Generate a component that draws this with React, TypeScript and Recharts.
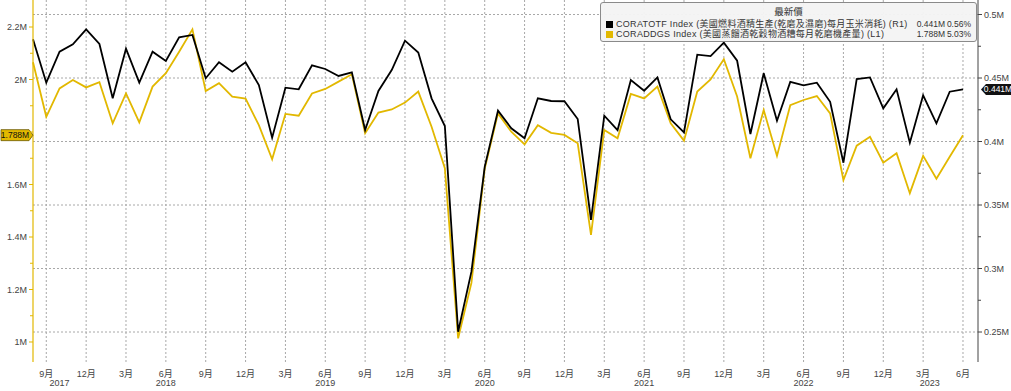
import { LineChart, Line, XAxis, YAxis, CartesianGrid, ReferenceDot } from "recharts";

const months = [
  "2017-08", "2017-09", "2017-10", "2017-11", "2017-12",
  "2018-01", "2018-02", "2018-03", "2018-04", "2018-05", "2018-06", "2018-07", "2018-08", "2018-09", "2018-10", "2018-11", "2018-12",
  "2019-01", "2019-02", "2019-03", "2019-04", "2019-05", "2019-06", "2019-07", "2019-08", "2019-09", "2019-10", "2019-11", "2019-12",
  "2020-01", "2020-02", "2020-03", "2020-04", "2020-05", "2020-06", "2020-07", "2020-08", "2020-09", "2020-10", "2020-11", "2020-12",
  "2021-01", "2021-02", "2021-03", "2021-04", "2021-05", "2021-06", "2021-07", "2021-08", "2021-09", "2021-10", "2021-11", "2021-12",
  "2022-01", "2022-02", "2022-03", "2022-04", "2022-05", "2022-06", "2022-07", "2022-08", "2022-09", "2022-10", "2022-11", "2022-12",
  "2023-01", "2023-02", "2023-03", "2023-04", "2023-05", "2023-06",
];

// CORATOTF, right axis (M)
const cornUse = [
  0.4805, 0.4463, 0.4707, 0.4765, 0.4883, 0.4768, 0.434, 0.4731, 0.4463, 0.4707,
  0.4634, 0.482, 0.4839, 0.4498, 0.4624, 0.455, 0.4624, 0.4445, 0.403, 0.4424,
  0.4411, 0.46, 0.4571, 0.4516, 0.4545, 0.409, 0.4398, 0.4563, 0.4794, 0.47,
  0.434, 0.4122, 0.2502, 0.2975, 0.38, 0.4243, 0.4104, 0.4025, 0.434, 0.4319,
  0.4317, 0.4177, 0.3382, 0.4203, 0.409, 0.4484, 0.44, 0.4505, 0.4175, 0.4072,
  0.4684, 0.4673, 0.4778, 0.4636, 0.4059, 0.4537, 0.4164, 0.4469, 0.4442, 0.4463,
  0.4313, 0.3833, 0.4492, 0.4505, 0.4261, 0.4411, 0.399, 0.4364, 0.4143, 0.4392, 0.441,
];

// CORADDGS, left axis (M)
const ddgsOutput = [
  2.066, 1.858, 1.966, 1.998, 1.97, 1.99, 1.833, 1.947, 1.837, 1.973,
  2.024, 2.106, 2.191, 1.956, 1.986, 1.935, 1.927, 1.826, 1.696, 1.869,
  1.862, 1.947, 1.964, 1.992, 2.02, 1.795, 1.874, 1.886, 1.912, 1.954,
  1.82, 1.662, 1.014, 1.225, 1.66, 1.871, 1.801, 1.753, 1.826, 1.797,
  1.789, 1.757, 1.408, 1.808, 1.776, 1.945, 1.928, 1.973, 1.833, 1.767,
  1.954, 2.0, 2.077, 1.935, 1.7, 1.884, 1.709, 1.902, 1.922, 1.937,
  1.871, 1.617, 1.748, 1.782, 1.683, 1.719, 1.567, 1.709, 1.622, 1.706, 1.788,
];

const leftTicks = [1.0, 1.1, 1.2, 1.3, 1.4, 1.5, 1.6, 1.7, 1.8, 1.9, 2.0, 2.1, 2.2];
const rightTicks = [0.25, 0.275, 0.3, 0.325, 0.35, 0.375, 0.4, 0.425, 0.45, 0.475, 0.5];
const rightGrid = [0.25, 0.3, 0.35, 0.4, 0.45, 0.5];

const GOLD = "#e2b800";
const FONT = "'Liberation Sans', 'Noto Sans CJK TC', sans-serif";
const xMax = months.length + 0.13;
const lastDdgs = ddgsOutput[ddgsOutput.length - 1];
const lastCorn = cornUse[cornUse.length - 1];

const data = months.map((m, i) => ({ idx: i, date: m, corn: cornUse[i], ddgs: ddgsOutput[i] }));

const monthNum = (i: number) => Number(months[Math.round(i)].slice(5));
const quarterTicks = data.filter((d) => monthNum(d.idx) % 3 === 0).map((d) => d.idx);

// year label sits under June for full years, centre of the visible part otherwise
const years = Array.from(new Set(months.map((m) => m.slice(0, 4))));
const yearTicks = years.map((y) => {
  const ids = data.filter((d) => d.date.startsWith(y)).map((d) => d.idx);
  return ids.length === 12 ? ids[5] : (ids[0] + ids[ids.length - 1]) / 2;
});

const LeftTick = (props: any) => {
  const { x, y, payload } = props;
  const major = Math.round(payload.value * 10) % 2 === 0;
  // the last-value tag hides the label beneath it
  const covered = Math.abs(payload.value - lastDdgs) < 0.05;
  return (
    <g>
      <line x1={x - (major ? 4 : 3)} x2={x} y1={y} y2={y} stroke={GOLD} />
      {major && !covered && (
        <text x={x - 6} y={y} dy="0.35em" textAnchor="end" fontSize={9} fill="#444" fontFamily={FONT}>
          {`${payload.value}M`}
        </text>
      )}
    </g>
  );
};

const RightTick = (props: any) => {
  const { x, y, payload } = props;
  const major = Math.round(payload.value * 1000) % 50 === 0;
  return (
    <g>
      <line x1={x} x2={x + (major ? 4 : 3)} y1={y} y2={y} stroke="#444" />
      {major && (
        <text x={x + 6} y={y} dy="0.35em" textAnchor="start" fontSize={9} fill="#444" fontFamily={FONT}>
          {`${payload.value}M`}
        </text>
      )}
    </g>
  );
};

const LeftTag = (p: any) => {
  const { cx, cy } = p;
  return (
    <g>
      <polygon
        points={`${cx},${cy} ${cx - 4},${cy - 5.5} ${cx - 32},${cy - 5.5} ${cx - 32},${cy + 5.5} ${cx - 4},${cy + 5.5}`}
        fill={GOLD}
        stroke="#6b5a00"
        strokeWidth={0.8}
      />
      <text x={cx - 18} y={cy} dy="0.35em" textAnchor="middle" fontSize={8.5} fill="#111" fontFamily={FONT}>
        {`${lastDdgs}M`}
      </text>
    </g>
  );
};

const RightTag = (p: any) => {
  const { cx, cy } = p;
  return (
    <g>
      <polygon
        points={`${cx + 3},${cy} ${cx + 8},${cy - 5.5} ${cx + 33},${cy - 5.5} ${cx + 33},${cy + 5.5} ${cx + 8},${cy + 5.5}`}
        fill="#111"
      />
      <text x={cx + 20} y={cy} dy="0.35em" textAnchor="middle" fontSize={8.5} fill="#fff" fontFamily={FONT}>
        {`${lastCorn}M`}
      </text>
    </g>
  );
};

const numStyle = { position: "absolute" as const, textAlign: "right" as const, fontSize: 8.5 };

export default function App() {
  return (
    <div style={{ position: "absolute", left: 0, top: 0, width: 1011, height: 391, background: "#fff" }}>
      <LineChart width={1011} height={391} data={data} margin={{ top: 0, right: 0, bottom: 0, left: 0 }}>
        <CartesianGrid
          yAxisId="R"
          horizontalValues={rightGrid}
          verticalValues={quarterTicks}
          stroke="#a8a8a8"
          strokeDasharray="2 2"
        />
        <XAxis
          dataKey="idx"
          type="number"
          domain={[0, xMax]}
          ticks={quarterTicks}
          tickFormatter={(v: number) => `${monthNum(v)}月`}
          axisLine={false}
          tickLine={false}
          tickSize={0}
          tickMargin={9}
          height={16}
          interval={0}
          tick={{ fontSize: 9, fill: "#444", fontFamily: FONT }}
        />
        <XAxis
          xAxisId="yr"
          dataKey="idx"
          type="number"
          domain={[0, xMax]}
          ticks={yearTicks}
          tickFormatter={(v: number) => months[Math.floor(v)].slice(0, 4)}
          axisLine={false}
          tickLine={false}
          tickSize={0}
          tickMargin={2}
          height={13}
          interval={0}
          tick={{ fontSize: 9, fill: "#444", fontFamily: FONT }}
        />
        <YAxis
          yAxisId="L"
          orientation="left"
          width={33}
          domain={[0.9238, 2.3029]}
          ticks={leftTicks}
          interval={0}
          allowDataOverflow
          axisLine={{ stroke: GOLD, strokeWidth: 1.2 }}
          tickLine={false}
          tickSize={0}
          tickMargin={0}
          tick={<LeftTick />}
        />
        <YAxis
          yAxisId="R"
          orientation="right"
          width={33}
          domain={[0.22638, 0.51142]}
          ticks={rightTicks}
          interval={0}
          allowDataOverflow
          axisLine={{ stroke: "#444" }}
          tickLine={false}
          tickSize={0}
          tickMargin={0}
          tick={<RightTick />}
        />
        <Line
          yAxisId="L"
          type="linear"
          dataKey="ddgs"
          stroke={GOLD}
          strokeWidth={1.8}
          dot={false}
          isAnimationActive={false}
        />
        <Line
          yAxisId="R"
          type="linear"
          dataKey="corn"
          stroke="#000"
          strokeWidth={1.8}
          dot={false}
          isAnimationActive={false}
        />
        <ReferenceDot
          yAxisId="L"
          x={0}
          y={lastDdgs}
          ifOverflow="visible"
          shape={(p: any) => <LeftTag {...p} />}
        />
        <ReferenceDot
          yAxisId="R"
          x={xMax}
          y={lastCorn}
          ifOverflow="visible"
          shape={(p: any) => <RightTag {...p} />}
        />
      </LineChart>

      <div
        style={{
          position: "absolute",
          left: 600,
          top: 2,
          width: 377,
          height: 40,
          boxSizing: "border-box",
          border: "1px solid #8a8a8a",
          borderRadius: 3,
          background: "rgba(244,244,244,0.96)",
          fontFamily: FONT,
          fontSize: 9,
          color: "#333",
          lineHeight: "10px",
          whiteSpace: "nowrap",
        }}
      >
        <div style={{ position: "absolute", top: 4, left: 0, right: 0, textAlign: "center", fontSize: 9.5 }}>最新價</div>
        <div style={{ position: "absolute", top: 16, left: 5, right: 5, height: 10 }}>
          <span style={{ position: "absolute", left: 0, top: 1.5, width: 7, height: 7, background: "#000" }} />
          <span style={{ position: "absolute", left: 10, letterSpacing: 0.3 }}>
            CORATOTF Index (美國燃料酒精生產(乾磨及濕磨)每月玉米消耗) (R1)
          </span>
          <span style={{ ...numStyle, right: 26 }}>0.441M</span>
          <span style={{ ...numStyle, right: 0 }}>0.56%</span>
        </div>
        <div style={{ position: "absolute", top: 26, left: 5, right: 5, height: 10 }}>
          <span style={{ position: "absolute", left: 0, top: 1.5, width: 7, height: 7, background: GOLD }} />
          <span style={{ position: "absolute", left: 10, letterSpacing: 0.3 }}>
            CORADDGS Index (美國蒸餾酒乾穀物酒糟每月乾磨機產量) (L1)
          </span>
          <span style={{ ...numStyle, right: 26 }}>1.788M</span>
          <span style={{ ...numStyle, right: 0 }}>5.03%</span>
        </div>
      </div>
    </div>
  );
}
